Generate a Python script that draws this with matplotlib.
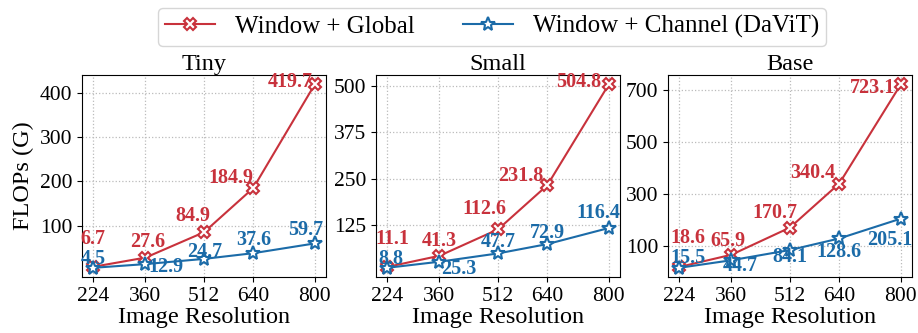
import matplotlib
matplotlib.use('Agg')
import matplotlib.pyplot as plt

plt.rcParams['font.family'] = ['Liberation Serif', 'DejaVu Serif']

# data
resolutions = [224, 360, 512, 640, 800]
models = ['Tiny', 'Small', 'Base']
global_flops = [[6.7, 27.6, 84.9, 184.9, 419.7],
                [11.1, 41.3, 112.6, 231.8, 504.8],
                [18.6, 65.9, 170.7, 340.4, 723.1]]
channel_flops = [[4.5, 12.9, 24.7, 37.6, 59.7],
                 [8.8, 25.3, 47.7, 72.9, 116.4],
                 [15.5, 44.7, 84.1, 128.6, 205.1]]
yticks = [[100, 200, 300, 400], [125, 250, 375, 500], [100, 300, 500, 700]]

# label offsets in pixels (text centre relative to point)
red_off = [[(0, 28), (2, 16), (-11, 16), (-22, 10), (-25, 2)],
           [(5, 28), (0, 15), (-14, 20), (-27, 9), (-30, 2)],
           [(9, 29), (-4, 14), (-15, 15), (-27, 11), (-28, -4)]]
blue_off = [[(0, 9), (20, -3), (1, 7), (0, 13), (-9, 13)],
            [(4, 9), (19, -7), (0, 11), (0, 11), (-11, 15)],
            [(9, 10), (9, -6), (0, -7), (0, -14), (-11, -21)]]

red = '#C8323C'
blue = '#1B6BA8'

fig = plt.figure(figsize=(9.18, 3.33), dpi=100)
lefts = [82, 376, 668]
axes = [fig.add_axes([l / 918, 1 - 277 / 333, 244 / 918, 202 / 333]) for l in lefts]

for i, ax in enumerate(axes):
    l1, = ax.plot(resolutions, global_flops[i], color=red, lw=1.5, marker='X',
                  ms=8, mfc='white', mec=red, mew=1.5, label='Window + Global')
    l2, = ax.plot(resolutions, channel_flops[i], color=blue, lw=1.5, marker='*',
                  ms=10, mfc='white', mec=blue, mew=1.5, label='Window + Channel (DaViT)')
    for j, x in enumerate(resolutions):
        ax.annotate(f'{global_flops[i][j]:.1f}', (x, global_flops[i][j]),
                    xytext=red_off[i][j], textcoords='offset pixels',
                    ha='center', va='center', color=red, fontsize=14.5, fontweight='bold')
        ax.annotate(f'{channel_flops[i][j]:.1f}', (x, channel_flops[i][j]),
                    xytext=blue_off[i][j], textcoords='offset pixels',
                    ha='center', va='center', color=blue, fontsize=14.5, fontweight='bold')
    ax.set_xticks(resolutions)
    ax.set_yticks(yticks[i])
    ax.tick_params(labelsize=15.5)
    ax.grid(True, linestyle=':', color='#bbbbbb', lw=0.9)
    ax.set_title(models[i], fontsize=17.5, pad=3)
    ax.set_xlabel('Image Resolution', fontsize=17.5, labelpad=1)

axes[0].set_ylabel('FLOPs (G)', fontsize=17.5)
fig.legend(handles=[l1, l2], loc='center', bbox_to_anchor=(0.536, 0.92), ncol=2,
           fontsize=18, frameon=True, columnspacing=1.9, borderpad=0.3)

fig.savefig('out.png', dpi=100)
